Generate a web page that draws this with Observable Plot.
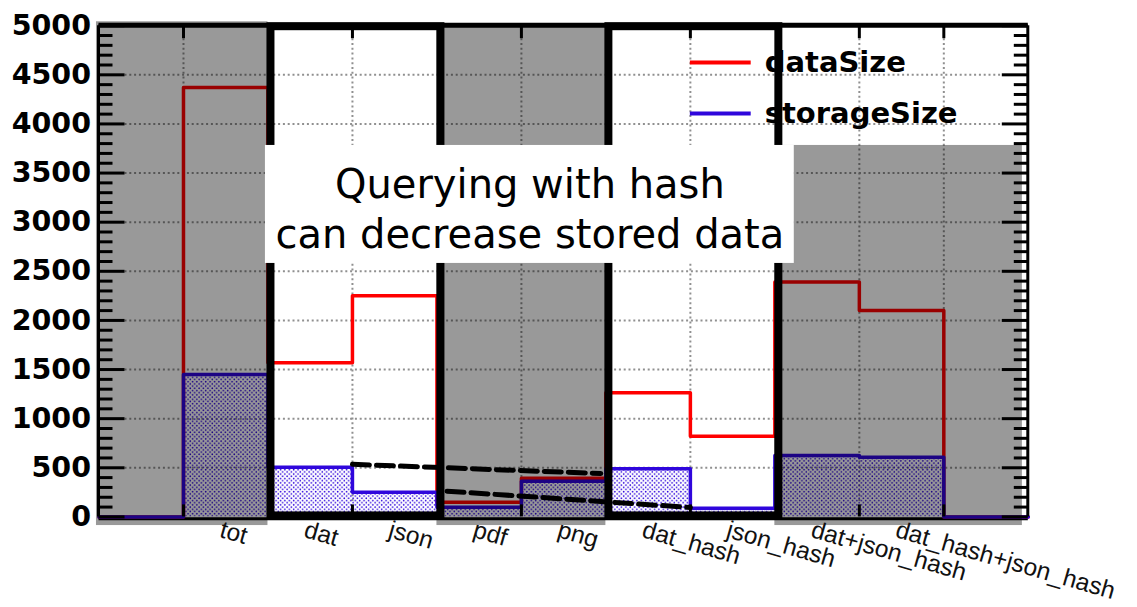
<!DOCTYPE html>
<html>
<head>
<meta charset="utf-8">
<script src="https://cdn.jsdelivr.net/npm/d3@7"></script>
<script src="https://cdn.jsdelivr.net/npm/@observablehq/plot@0.6"></script>
<style>
  html, body { margin: 0; padding: 0; background: #ffffff; }
  #chart svg { display: block; }
</style>
</head>
<body>
<div id="chart"></div>
<script>
// ---- data ----
const categories = ["", "tot", "dat", "json", "pdf", "png", "dat_hash", "json_hash", "dat+json_hash", "dat_hash+json_hash", ""];
const dataSize    = [0, 4370, 1570, 2250, 150, 394, 1265, 822, 2390, 2100, 0];
const storageSize = [0, 1450,  505,  252,  97, 363,  490,  88,  625,  607, 0];
const seriesNames = ["dataSize", "storageSize"];
const yTickValues = [0, 500, 1000, 1500, 2000, 2500, 3000, 3500, 4000, 4500, 5000];
const yMinorValues = d3.range(0, 5001, 100).filter(v => v % 500 !== 0);
const xGridEdges = [1, 3, 5, 7, 9, 10];
const annotationLines = ["Querying with hash", "can decrease stored data"];
// dashed trend annotations (bin-edge units, value)
const trendUpperX = [3.0, 5.94], trendUpperY = [535, 442];
const trendLowerX = [4.12, 7.0], trendLowerY = [262, 96];
// shaded groups / highlighted groups (by category index)
const shadedGroups = [[0, 2], [4, 6], [8, 10.93]];
const highlightGroups = [[2, 4], [6, 8]];

// ---- derived tables ----
const nBins = categories.length;
const bins = categories.map((c, i) => ({i, x1: i, x2: i + 1, label: c, data: dataSize[i], storage: storageSize[i]}));
const stepData = bins.map(b => ({x: b.x1, v: b.data})).concat([{x: nBins, v: dataSize[nBins - 1]}]);
const stepStorage = bins.map(b => ({x: b.x1, v: b.storage})).concat([{x: nBins, v: storageSize[nBins - 1]}]);
const trendUpper = trendUpperX.map((x, i) => ({x, y: trendUpperY[i]}));
const trendLower = trendLowerX.map((x, i) => ({x, y: trendLowerY[i]}));
const legendItems = seriesNames.map((name, i) => ({name, i}));

const RED = "#ff0000", BLUE = "#2f06dc";
const W = 1137, H = 607;
const mL = 98.5, mR = 109.2, mT = 25.2, mB = 90.6;
const frameW = W - mL - mR, frameH = H - mT - mB;

// annotation box (value space)
const annBox = {x1: 1.97, x2: 8.23, y1: 2580, y2: 3781};
const shadeBottom = -88;

const plot = Plot.plot({
  width: W, height: H,
  marginLeft: mL, marginRight: mR, marginTop: mT, marginBottom: mB,
  x: {type: "linear", domain: [0, nBins], axis: null},
  y: {type: "linear", domain: [0, 5000], axis: null},
  style: {background: "#ffffff", fontFamily: "DejaVu Sans", color: "black"},
  marks: [
    // grid
    Plot.ruleY(yTickValues.filter(v => v > 0 && v < 5000), {y: d => d, stroke: "#909090", strokeWidth: 2, strokeDasharray: "2,2.8", insetLeft: 26, insetRight: 26}),
    Plot.ruleX(xGridEdges, {x: d => d, stroke: "#909090", strokeWidth: 2, strokeDasharray: "2,2.8", insetTop: 13, insetBottom: 13}),
    // bottom frame line
    Plot.ruleY([0], {y: d => d, stroke: "black", strokeWidth: 3, dy: 1.8}),
    // storage fill (dots pattern)
    Plot.rectY(bins, {x1: "x1", x2: "x2", y: "storage", fill: "url(#dots)"}),
    // histograms
    Plot.line(stepData, {x: "x", y: "v", curve: "step-after", stroke: RED, strokeWidth: 3.5}),
    Plot.line(stepStorage, {x: "x", y: "v", curve: "step-after", stroke: BLUE, strokeWidth: 3.5}),
    // dashed trend lines
    Plot.line(trendUpper, {x: "x", y: "y", stroke: "black", strokeWidth: 5, strokeDasharray: "17,7"}),
    Plot.line(trendLower, {x: "x", y: "y", stroke: "black", strokeWidth: 5, strokeDasharray: "17,7"}),
    // ticks
    Plot.tickY(yTickValues, {y: d => d, stroke: "black", strokeWidth: 3, insetRight: frameW - 26}),
    Plot.tickY(yMinorValues, {y: d => d, stroke: "black", strokeWidth: 3, insetRight: frameW - 14}),
    Plot.tickY(yTickValues, {y: d => d, stroke: "black", strokeWidth: 3, insetLeft: frameW - 26}),
    Plot.tickY(yMinorValues, {y: d => d, stroke: "black", strokeWidth: 3, insetLeft: frameW - 14}),
    Plot.tickX(xGridEdges, {x: d => d, stroke: "black", strokeWidth: 3, insetBottom: frameH - 13}),
    Plot.tickX(xGridEdges, {x: d => d, stroke: "black", strokeWidth: 3, insetTop: frameH - 12}),
    Plot.ruleX([0, nBins], {x: d => d, stroke: "black", strokeWidth: 3, dx: -0.5}),
    // shaded regions
    Plot.rect(shadedGroups, {
      x1: d => d[0] === 0 ? -0.03 : d[0], x2: d => d[1],
      y1: shadeBottom, y2: (d, i) => i === 2 ? annBox.y2 : (i === 0 ? 5040 : 5000),
      fill: "black", fillOpacity: 0.4
    }),
    // highlight frames
    Plot.rect(highlightGroups, {x1: d => d[0], x2: d => d[1], y1: 0, y2: 5000, fill: "none", stroke: "black", strokeWidth: 8, insetLeft: 3, insetRight: -4, insetTop: 1, insetBottom: 1}),
    // top frame
    Plot.ruleY([5000], {y: d => d, stroke: "black", strokeWidth: 5, dy: -0.5}),
    // legend
    Plot.ruleY(legendItems, {y: d => 4625 - d.i * 518, x1: 7.0, x2: 7.72, stroke: d => d.i === 0 ? RED : BLUE, strokeWidth: 4}),
    Plot.text(legendItems, {x: 7.88, y: d => 4625 - d.i * 518, text: "name", textAnchor: "start", lineAnchor: "middle", fontSize: 29, fontWeight: "bold", fontFamily: "DejaVu Sans", fill: "black"}),
    // annotation box
    Plot.rect([annBox], {x1: "x1", x2: "x2", y1: "y1", y2: "y2", fill: "white"}),
    Plot.text([annotationLines.join("\n")], {x: (annBox.x1 + annBox.x2) / 2, y: (annBox.y1 + annBox.y2) / 2 - 30, text: d => d, textAnchor: "middle", lineAnchor: "middle", lineHeight: 1.25, fontSize: 40, fontFamily: "DejaVu Sans", fill: "black"}),
    // y tick labels
    Plot.text(yTickValues, {y: d => d, frameAnchor: "left", dx: -8, textAnchor: "end", lineAnchor: "middle", text: d => String(d), fontSize: 28.5, fontWeight: "bold", fontFamily: "DejaVu Sans", fill: "black"}),
    // x category labels
    Plot.text(bins.filter(b => b.label), {x: d => d.i + 0.47, frameAnchor: "bottom", dy: 3, text: "label", rotate: 16, textAnchor: "start", lineAnchor: "top", fontSize: 24.5, fontFamily: "Liberation Sans", fill: "#111"})
  ]
});

// dots pattern for the storage fill
const svg = d3.select(plot);
const defs = svg.insert("defs", ":first-child");
const pat = defs.append("pattern").attr("id", "dots").attr("patternUnits", "userSpaceOnUse").attr("width", 4.4).attr("height", 4.4);
pat.append("circle").attr("cx", 1.1).attr("cy", 1.1).attr("r", 0.85).attr("fill", BLUE);
pat.append("circle").attr("cx", 3.3).attr("cy", 3.3).attr("r", 0.85).attr("fill", BLUE);
plot.setAttribute("overflow", "visible");
document.getElementById("chart").appendChild(plot);
</script>
</body>
</html>
